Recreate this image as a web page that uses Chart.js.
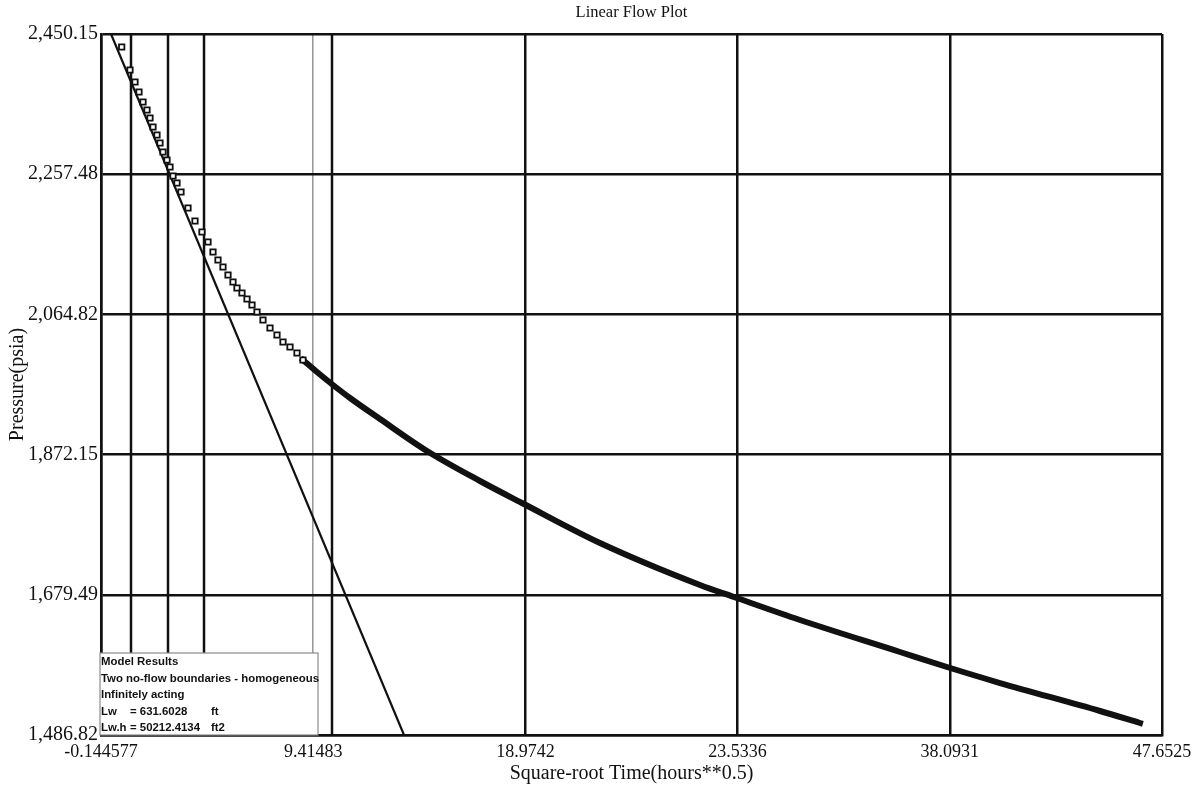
<!DOCTYPE html>
<html lang="en">
<head>
  <meta charset="UTF-8">
  <title>Linear Flow Plot</title>
  <script src="https://cdn.jsdelivr.net/npm/chart.js"></script>
  <style>
    html, body { margin: 0; padding: 0; background: #fff; }
  </style>
</head>
<body>

  <canvas id="linearFlowChart" width="1192" height="788"></canvas>

  <script>
    // axis ticks
    const xTickValues = [-0.144577, 9.41483, 18.9742, 28.5336, 38.0931, 47.6525];
    const xTickLabels = ['-0.144577', '9.41483', '18.9742', '23.5336', '38.0931', '47.6525'];
    const yTickValues = [1486.82, 1679.49, 1872.15, 2064.82, 2257.48, 2450.15];
    const yTickLabels = ['1,486.82', '1,679.49', '1,872.15', '2,064.82', '2,257.48', '2,450.15'];

    // early-time samples (open squares)
    const markerTime = [0.788, 1.162, 1.387, 1.567, 1.748, 1.928, 2.063, 2.198, 2.378, 2.513,
      2.648, 2.829, 2.964, 3.099, 3.279, 3.459, 3.775, 4.090, 4.405, 4.676,
      4.901, 5.126, 5.351, 5.577, 5.802, 5.982, 6.207, 6.433, 6.658, 6.883,
      7.153, 7.469, 7.784, 8.054, 8.370, 8.685, 8.955];
    const markerPressure = [2432.28, 2400.68, 2384.19, 2370.44, 2356.70, 2345.71, 2334.71, 2322.35, 2311.35, 2300.36,
      2287.99, 2277.00, 2267.38, 2255.01, 2245.39, 2233.02, 2211.03, 2193.17, 2178.05, 2164.31,
      2150.57, 2139.57, 2129.95, 2118.96, 2109.34, 2101.09, 2094.22, 2085.98, 2077.73, 2068.11,
      2057.12, 2046.13, 2036.51, 2026.89, 2020.02, 2011.77, 2002.15];

    // later samples, packed so tight they read as a solid band
    const bandTime = [8.955, 9.586, 10.307, 11.073, 12.424, 14.541, 16.929, 18.821, 22.335,
      26.840, 28.371, 31.345, 35.850, 37.967, 40.355, 44.859, 46.661];
    const bandPressure = [2002.15, 1985.66, 1967.80, 1949.93, 1921.07, 1877.10, 1835.87, 1805.64, 1750.67,
      1692.95, 1676.46, 1644.85, 1600.88, 1580.26, 1558.27, 1519.80, 1503.31];

    // linear flow straight-line fit
    const fitTime = [0.306, 13.505];
    const fitPressure = [2450.15, 1486.82];

    // vertical marker lines
    const markerLineTimes = [1.207, 2.874, 4.496, 10.262];

    const modelLines = [
      ['Model Results'],
      ['Two no-flow boundaries - homogeneous'],
      ['Infinitely acting'],
      ['Lw', '= 631.6028', 'ft'],
      ['Lw.h', '= 50212.4134', 'ft2']
    ];

    const yMin = yTickValues[0];
    const yMax = yTickValues[yTickValues.length - 1];
    const ink = '#111';

    const toPoints = (xs, ys) => xs.map((x, i) => ({ x: x, y: ys[i] }));

    const datasets = [
      {
        label: 'samples',
        data: toPoints(markerTime, markerPressure),
        showLine: false,
        pointStyle: 'rect',
        pointRadius: 3.8,
        pointBorderWidth: 1.8,
        pointBorderColor: ink,
        pointBackgroundColor: '#fff',
        order: 1
      },
      {
        label: 'band',
        data: toPoints(bandTime, bandPressure),
        showLine: true,
        borderColor: ink,
        borderWidth: 6,
        borderCapStyle: 'square',
        cubicInterpolationMode: 'monotone',
        pointRadius: 0,
        order: 2
      },
      {
        label: 'fit',
        data: toPoints(fitTime, fitPressure),
        showLine: true,
        borderColor: ink,
        borderWidth: 2.2,
        pointRadius: 0,
        order: 3
      }
    ];

    markerLineTimes.forEach(t => {
      datasets.push({
        label: 'line ' + t,
        data: [{ x: t, y: yMin }, { x: t, y: yMax }],
        showLine: true,
        borderColor: ink,
        borderWidth: 2.5,
        pointRadius: 0,
        order: 4
      });
    });

    // title above the plot and the model results box
    const annotations = {
      id: 'annotations',
      afterDatasetsDraw(chart) {
        const ctx = chart.ctx;
        const area = chart.chartArea;
        ctx.save();
        ctx.fillStyle = ink;
        ctx.font = '16.5px "Liberation Serif"';
        ctx.textAlign = 'center';
        ctx.textBaseline = 'middle';
        ctx.fillText('Linear Flow Plot', (area.left + area.right) / 2, 13);

        const boxLeft = area.left - 1, boxTop = 653, boxRight = 318, boxBottom = area.bottom;
        ctx.fillStyle = '#fff';
        ctx.fillRect(boxLeft, boxTop, boxRight - boxLeft, boxBottom - boxTop);
        ctx.strokeStyle = '#8a8a8a';
        ctx.lineWidth = 1.2;
        ctx.strokeRect(boxLeft, boxTop, boxRight - boxLeft, boxBottom - boxTop);

        ctx.fillStyle = ink;
        ctx.font = 'bold 11.4px "Liberation Sans"';
        ctx.textAlign = 'left';
        const columns = [area.left, area.left + 29, area.left + 110];
        modelLines.forEach((parts, i) => {
          const y = 662 + i * 16.5;
          parts.forEach((txt, j) => ctx.fillText(txt, columns[j], y));
        });
        ctx.restore();
      }
    };

    const ctx = document.getElementById('linearFlowChart').getContext('2d');
    new Chart(ctx, {
      type: 'scatter',
      data: { datasets: datasets },
      plugins: [annotations],
      options: {
        responsive: false,
        animation: false,
        layout: { padding: { top: 34, right: 30, left: 0, bottom: 0 } },
        plugins: {
          legend: { display: false },
          tooltip: { enabled: false },
          title: { display: false }
        },
        scales: {
          x: {
            type: 'linear',
            min: xTickValues[0],
            max: xTickValues[xTickValues.length - 1],
            afterBuildTicks: scale => {
              scale.ticks = xTickValues.map(v => ({ value: v }));
            },
            afterFit: scale => {
              scale.height = 53;
              scale.paddingLeft = 0;
              scale.paddingRight = 0;
            },
            ticks: {
              autoSkip: false,
              maxRotation: 0,
              padding: 6,
              color: ink,
              font: { family: 'Liberation Serif', size: 18 },
              callback: (value, index) => xTickLabels[index]
            },
            grid: {
              drawTicks: false,
              color: ctx => ctx.index === 1 ? '#9a9a9a' : ink,
              lineWidth: ctx => ctx.index === 1 ? 1.6 : 2.5
            },
            border: { color: ink, width: 2.5 },
            title: {
              display: true,
              text: 'Square-root Time(hours**0.5)',
              color: ink,
              font: { family: 'Liberation Serif', size: 20 },
              padding: { top: 0, bottom: 2 }
            }
          },
          y: {
            type: 'linear',
            min: yMin,
            max: yMax,
            afterBuildTicks: scale => {
              scale.ticks = yTickValues.map(v => ({ value: v }));
            },
            afterFit: scale => {
              scale.width = 101;
              scale.paddingTop = 0;
              scale.paddingBottom = 0;
            },
            ticks: {
              padding: 3,
              color: ink,
              font: { family: 'Liberation Serif', size: 20 },
              callback: (value, index) => yTickLabels[index]
            },
            grid: {
              drawTicks: false,
              color: ink,
              lineWidth: 2.5
            },
            border: { color: ink, width: 2.5 },
            title: {
              display: true,
              text: 'Pressure(psia)',
              color: ink,
              font: { family: 'Liberation Serif', size: 20 },
              padding: { top: 6, bottom: 0 }
            }
          }
        }
      }
    });
  </script>

</body>
</html>
